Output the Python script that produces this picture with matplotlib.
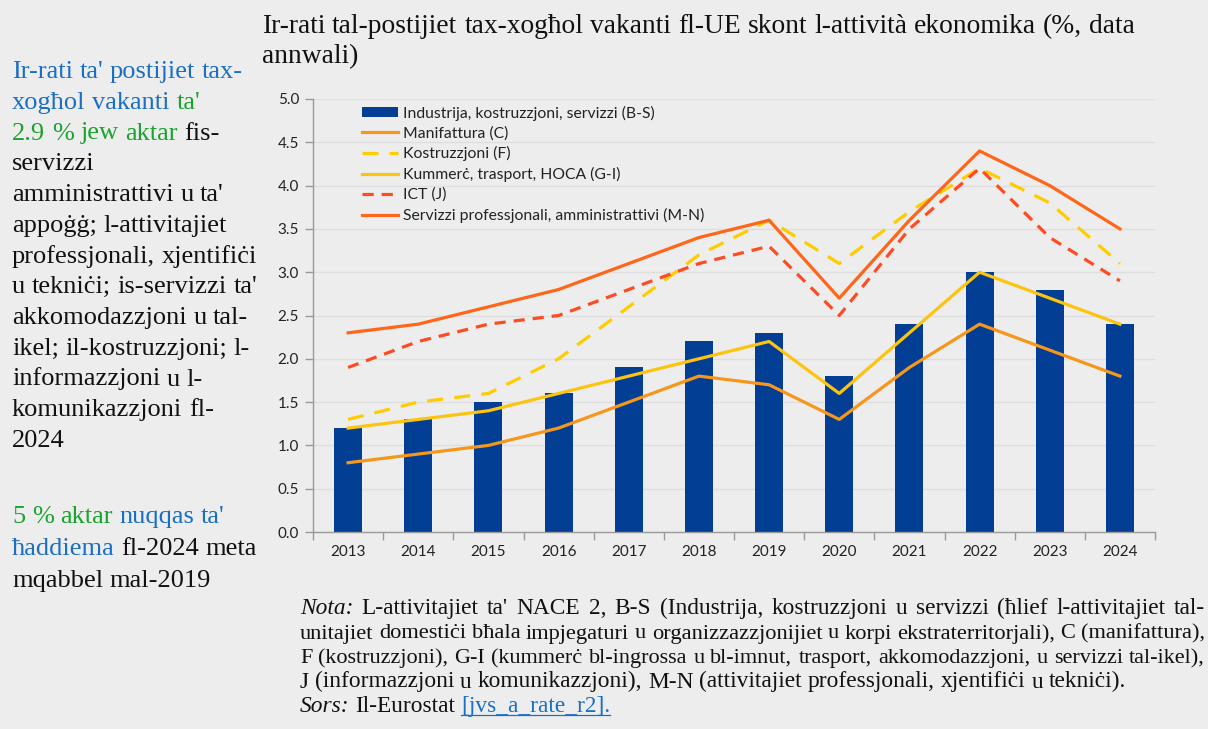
import matplotlib.pyplot as plt
import numpy as np

years = ['2013', '2014', '2015', '2016', '2017', '2018',
         '2019', '2020', '2021', '2022', '2023', '2024']
total_bs = [1.2, 1.3, 1.5, 1.6, 1.9, 2.2, 2.3, 1.8, 2.4, 3.0, 2.8, 2.4]
manuf_c = [0.8, 0.9, 1.0, 1.2, 1.5, 1.8, 1.7, 1.3, 1.9, 2.4, 2.1, 1.8]
constr_f = [1.3, 1.5, 1.6, 2.0, 2.6, 3.2, 3.6, 3.1, 3.7, 4.2, 3.8, 3.1]
trade_gi = [1.2, 1.3, 1.4, 1.6, 1.8, 2.0, 2.2, 1.6, 2.3, 3.0, 2.7, 2.4]
ict_j = [1.9, 2.2, 2.4, 2.5, 2.8, 3.1, 3.3, 2.5, 3.5, 4.2, 3.4, 2.9]
prof_mn = [2.3, 2.4, 2.6, 2.8, 3.1, 3.4, 3.6, 2.7, 3.6, 4.4, 4.0, 3.5]

labels = ['Industrija, kostruzzjoni, servizzi (B-S)', 'Manifattura (C)',
          'Kostruzzjoni (F)', 'Kummerċ, trasport, HOCA (G-I)', 'ICT (J)',
          'Servizzi professjonali, amministrattivi (M-N)']

title_lines = ["Ir-rati tal-postijiet tax-xogħol vakanti fl-UE skont l-attività ekonomika (%, data",
               "annwali)"]

BLUE_T = '#1a6fc4'
GREEN_T = '#1aa32e'
BLACK = '#111111'

side_lines = [
    [("Ir-rati ta' postijiet tax-", BLUE_T)],
    [("xogħol vakanti", BLUE_T), ("ta'", GREEN_T)],
    [("2.9 % jew aktar", GREEN_T), ("fis-", BLACK)],
    [("servizzi", BLACK)],
    [("amministrattivi u ta'", BLACK)],
    [("appoġġ; l-attivitajiet", BLACK)],
    [("professjonali, xjentifiċi", BLACK)],
    [("u tekniċi; is-servizzi ta'", BLACK)],
    [("akkomodazzjoni u tal-", BLACK)],
    [("ikel; il-kostruzzjoni; l-", BLACK)],
    [("informazzjoni u l-", BLACK)],
    [("komunikazzjoni fl-", BLACK)],
    [("2024", BLACK)],
]
side_lines2 = [
    [("5 % aktar", GREEN_T), ("nuqqas ta'", BLUE_T)],
    [("ħaddiema", BLUE_T), ("fl-2024 meta", BLACK)],
    [("mqabbel mal-2019", BLACK)],
]

note_lines = [
    ([("Nota:", 'italic', BLACK), ("L-attivitajiet ta' NACE 2, B-S (Industrija, kostruzzjoni u servizzi (ħlief l-attivitajiet tal-", 'normal', BLACK)], True),
    ([("unitajiet domestiċi bħala impjegaturi u organizzazzjonijiet u korpi ekstraterritorjali), C (manifattura),", 'normal', BLACK)], True),
    ([("F (kostruzzjoni), G-I (kummerċ bl-ingrossa u bl-imnut, trasport, akkomodazzjoni, u servizzi tal-ikel),", 'normal', BLACK)], True),
    ([("J (informazzjoni u komunikazzjoni), M-N (attivitajiet professjonali, xjentifiċi u tekniċi).", 'normal', BLACK)], False),
    ([("Sors:", 'italic', BLACK), ("Il-Eurostat", 'normal', BLACK), ("[jvs_a_rate_r2].", 'link', BLUE_T)], False),
]

BG = '#ededed'
W, H = 1208, 729
fig = plt.figure(figsize=(W / 100, H / 100), dpi=100, facecolor=BG)
ax = fig.add_axes([313 / W, 1 - 532 / H, (1155 - 313) / W, (532 - 99) / H])
ax.set_facecolor(BG)

x = np.arange(len(years))
ax.bar(x, total_bs, width=0.4, color='#023f94', label=labels[0], zorder=2)
ax.plot(x, manuf_c, color='#f6961a', lw=2.3, label=labels[1], zorder=3)
ax.plot(x, constr_f, color='#ffcc00', lw=2.3, dashes=(5, 3.5), label=labels[2], zorder=3)
ax.plot(x, trade_gi, color='#fdc40f', lw=2.3, label=labels[3], zorder=3)
ax.plot(x, ict_j, color='#ff4b22', lw=2.3, dashes=(3.5, 2.5), label=labels[4], zorder=3)
ax.plot(x, prof_mn, color='#ff6619', lw=2.3, label=labels[5], zorder=3)

ax.set_xlim(-0.5, len(years) - 0.5)
ax.set_ylim(0, 5)
ax.set_yticks(np.arange(0, 5.01, 0.5))
ax.set_yticklabels([f'{v:.1f}' for v in np.arange(0, 5.01, 0.5)])
ax.set_xticks(x)
ax.set_xticklabels(years)
ax.set_xticks(np.arange(-0.5, len(years), 1), minor=True)
ax.tick_params(axis='x', which='major', length=0, pad=9)
ax.tick_params(axis='x', which='minor', length=6, color='#9a9a9a', width=1)
ax.tick_params(axis='y', length=6, color='#9a9a9a', width=1, pad=4)
for lab in ax.get_xticklabels() + ax.get_yticklabels():
    lab.set_fontfamily('Lato')
    lab.set_fontsize(11)
    lab.set_color('#222222')
ax.grid(axis='y', color='#dedede', lw=1, zorder=0)
ax.set_axisbelow(True)
for s in ['top', 'right']:
    ax.spines[s].set_visible(False)
for s in ['left', 'bottom']:
    ax.spines[s].set_color('#9a9a9a')
    ax.spines[s].set_linewidth(1)

handles, labs = ax.get_legend_handles_labels()
order = [labs.index(l) for l in labels]
leg = ax.legend([handles[i] for i in order], [labs[i] for i in order],
                loc='upper left', bbox_to_anchor=(0.058, 0.985), frameon=False,
                prop={'family': 'Lato', 'size': 11.3}, handlelength=2.3,
                handleheight=0.55, handletextpad=0.3, labelspacing=0.36,
                borderpad=0, borderaxespad=0)
for t in leg.get_texts():
    t.set_color('#222222')

renderer = fig.canvas.get_renderer()


def width_of(s, **kw):
    t = fig.text(0, 0, s, **kw)
    w = t.get_window_extent(renderer).width
    t.remove()
    return w


def place_words(x0, y0, tokens, fontsize, target=None):
    # tokens: list of (word, style, color); shrinks the font if the line is too long
    kw = dict(family='Liberation Serif', fontsize=fontsize)
    sp = width_of('a a', **kw) - width_of('aa', **kw)
    fst = lambda st: 'normal' if st == 'link' else st
    widths = [width_of(w, fontstyle=fst(st), **kw) for w, st, c in tokens]
    if target is not None:
        natural = sum(widths) + sp * (len(tokens) - 1)
        if natural > target:
            k = target / natural
            kw['fontsize'] = fontsize * k
            sp *= k
            widths = [wd * k for wd in widths]
    gap = sp
    if target is not None and len(tokens) > 1:
        gap = (target - sum(widths)) / (len(tokens) - 1)
    xp = x0
    for (w, st, c), wd in zip(tokens, widths):
        fig.text(xp / W, 1 - y0 / H, w, fontstyle=fst(st), color=c, va='baseline', ha='left', **kw)
        if st == 'link':
            fig.add_artist(plt.Line2D([xp / W, (xp + wd) / W], [1 - (y0 + 3) / H] * 2,
                                      color=c, lw=0.9, transform=fig.transFigure))
        xp += wd + gap


def tokens_from(runs):
    out = []
    for text, st, c in runs:
        for w in text.split(' '):
            out.append((w, st, c))
    return out


# title
for i, line in enumerate(title_lines):
    place_words(262, 33 + i * 30, tokens_from([(line, 'normal', BLACK)]), 19.8)

# side panel
for i, runs in enumerate(side_lines):
    place_words(12, 78 + i * 30.75, tokens_from([(t, 'normal', c) for t, c in runs]), 19)
for i, runs in enumerate(side_lines2):
    place_words(12, 523 + i * 32, tokens_from([(t, 'normal', c) for t, c in runs]), 19)

# note
for i, (runs, just) in enumerate(note_lines):
    place_words(300, 614 + i * 24.5, tokens_from(runs), 16.8,
                target=(1205 - 300) if just else None)

fig.savefig('out.png', dpi=100, facecolor=BG)
